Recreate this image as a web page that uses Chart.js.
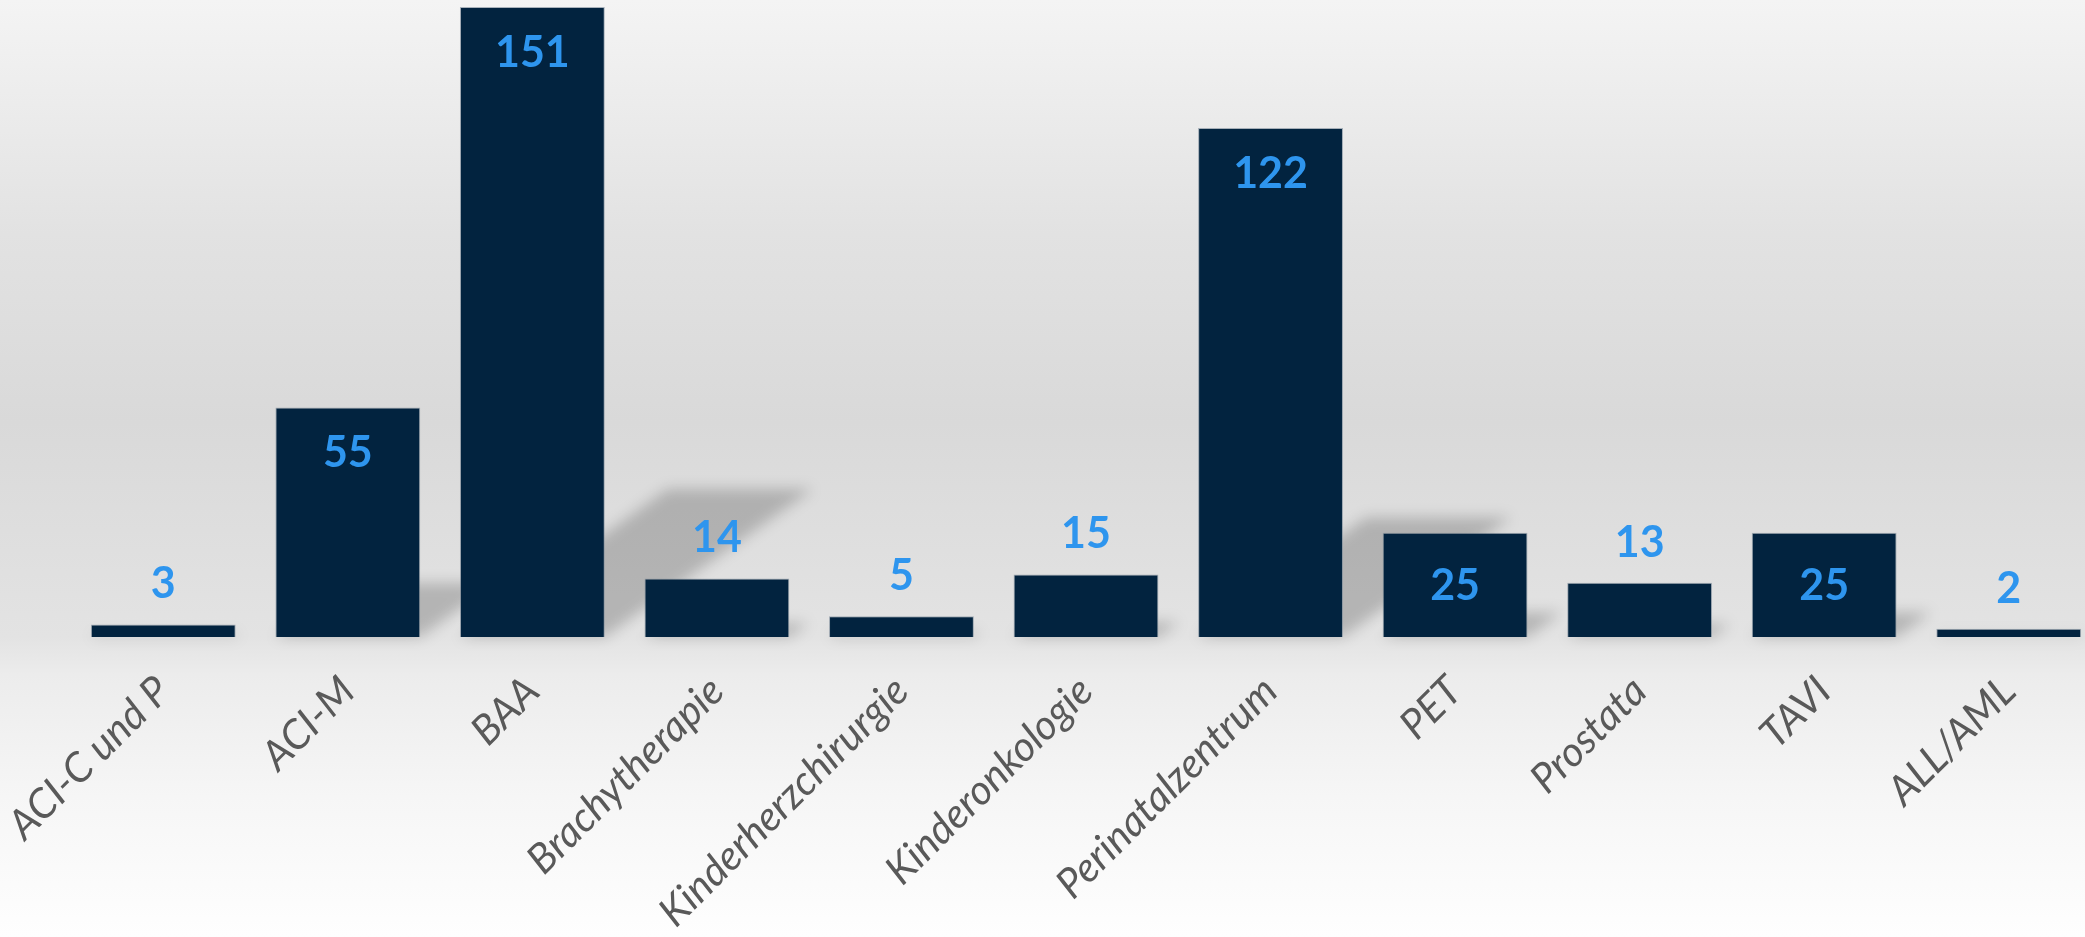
<!DOCTYPE html>
<html>
<head>
<meta charset="utf-8">
<script src="https://cdn.jsdelivr.net/npm/chart.js@4/dist/chart.umd.min.js"></script>
<style>
  html, body { margin:0; padding:0; overflow:hidden; width:2085px; height:937px; }
  body { background: linear-gradient(to bottom, #f4f4f4 0%, #e2e2e2 25%, #d9d9d9 45%, #e3e3e3 68%, #ececec 72%, #f6f6f6 85%, #fefefe 100%); }
  #wrap { position:absolute; left:0; top:0; width:2110px; height:937px; }
</style>
</head>
<body>
<div id="wrap"><canvas id="c" width="2110" height="937"></canvas></div>
<script>
const categories = ["ACI-C und P", "ACI-M", "BAA", "Brachytherapie", "Kinderherzchirurgie", "Kinderonkologie", "Perinatalzentrum", "PET", "Prostata", "TAVI", "ALL/AML"];
const values = [3, 55, 151, 14, 5, 15, 122, 25, 13, 25, 2];

const barColor = "#02233f";
const labelColor = "#2e95ee";

const shadowPlugin = {
  id: "perspectiveShadow",
  beforeDatasetsDraw(chart) {
    const ctx = chart.ctx;
    const meta = chart.getDatasetMeta(0);
    const k = 0.33, s = 0.235;
    ctx.save();
    ctx.filter = "blur(7px)";
    ctx.fillStyle = "rgba(0,0,0,0.2)";
    meta.data.forEach(el => {
      const base = el.base;
      const half = el.width / 2;
      const x0 = el.x - half, x1 = el.x + half;
      const top = el.y;
      const h = base - top;
      ctx.beginPath();
      ctx.moveTo(x0, base);
      ctx.lineTo(x0 + k * h, base - s * h);
      ctx.lineTo(x1 + k * h, base - s * h);
      ctx.lineTo(x1, base);
      ctx.closePath();
      ctx.fill();
    });
    ctx.restore();
  }
};

const valueLabelPlugin = {
  id: "valueLabels",
  afterDatasetsDraw(chart) {
    const ctx = chart.ctx;
    const meta = chart.getDatasetMeta(0);
    const data = chart.data.datasets[0].data;
    ctx.save();
    ctx.font = "bold 43px Lato, 'Open Sans', sans-serif";
    ctx.fillStyle = labelColor;
    ctx.textAlign = "center";
    ctx.textBaseline = "middle";
    meta.data.forEach((el, i) => {
      const v = data[i];
      const h = el.base - el.y;
      let y;
      if (h > 200) y = el.y + 46;
      else if (h > 100) y = el.y + 53;
      else y = el.y - 40;
      ctx.fillText(String(v), el.x, y);
    });
    ctx.restore();
  }
};

new Chart(document.getElementById("c"), {
  type: "bar",
  data: {
    labels: categories,
    datasets: [{
      data: values,
      backgroundColor: barColor,
      borderColor: "rgba(120,135,150,0.6)",
      borderWidth: 1,
      categoryPercentage: 1.0,
      barPercentage: 0.785
    }]
  },
  options: {
    responsive: false,
    animation: false,
    layout: { padding: { top: 7, left: 71, right: 9, bottom: 0 } },
    plugins: { legend: { display: false }, tooltip: { enabled: false } },
    scales: {
      y: { display: false, min: 0, max: 151 },
      x: {
        grid: { display: false },
        border: { display: false },
        afterFit(scale) { scale.height = 300; scale.paddingLeft = 0; scale.paddingRight = 0; },
        ticks: {
          minRotation: 45,
          maxRotation: 45,
          autoSkip: false,
          padding: 22,
          color: "#595959",
          font: { family: "Lato, 'Open Sans', sans-serif", size: 41, style: "italic" }
        }
      }
    }
  },
  plugins: [shadowPlugin, valueLabelPlugin]
});
</script>
</body>
</html>
